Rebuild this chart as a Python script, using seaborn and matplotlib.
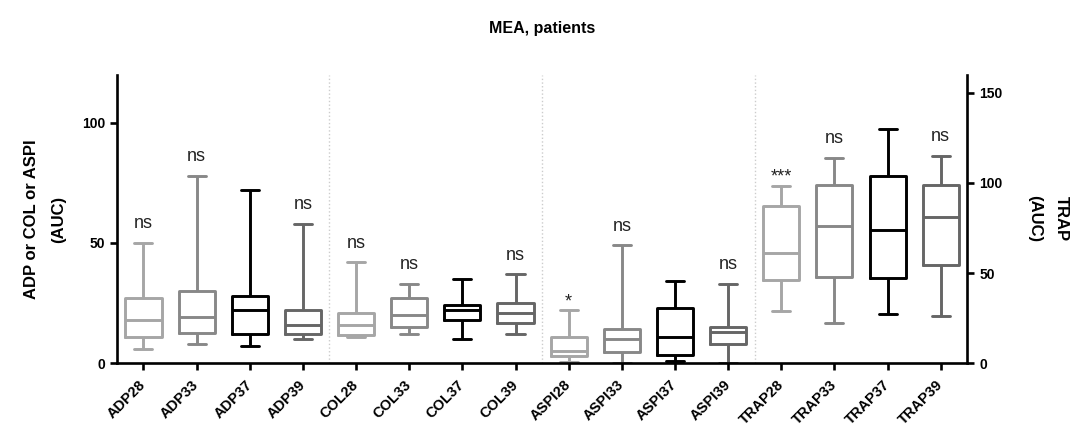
import numpy as np
import pandas as pd
import seaborn as sns
import matplotlib.pyplot as plt

# Categories in plot order
labels = ["ADP28", "ADP33", "ADP37", "ADP39",
          "COL28", "COL33", "COL37", "COL39",
          "ASPI28", "ASPI33", "ASPI37", "ASPI39",
          "TRAP28", "TRAP33", "TRAP37", "TRAP39"]
temps = ["28", "33", "37", "39"] * 4

# Five-number summaries (min, Q1, median, Q3, max)
whisk_lo = [6, 8, 7, 10, 11, 12, 10, 12, 0.5, 0, 1, 0, 29, 22, 27, 26]
q1 = [11, 12.6, 12, 12, 11.5, 15, 18, 16.5, 3, 4.5, 3.5, 8, 46, 48, 47, 54.5]
median = [18, 19, 22, 16, 16, 20, 22, 21, 5, 10, 11, 13, 61, 76, 74, 81]
q3 = [27, 30, 28, 22, 21, 27, 24, 25, 11, 14, 23, 15, 87, 99, 104, 99]
whisk_hi = [50, 78, 72, 58, 42, 33, 35, 37, 22, 49, 34, 33, 98.5, 114, 130, 115]

# Significance marks above each box
annot = ["ns", "ns", "", "ns", "ns", "ns", "", "ns",
         "*", "ns", "", "ns", "***", "ns", "", "ns"]

palette = {"28": "#A6A6A6", "33": "#888888", "37": "#000000", "39": "#666666"}

# long-form table: each box is drawn from its five summary values
rows = []
for lab, t, a, b, c, d, e in zip(labels, temps, whisk_lo, q1, median, q3, whisk_hi):
    for v in (a, b, c, d, e):
        rows.append({"group": lab, "temp": t, "auc": v,
                     "agonist": "TRAP" if lab.startswith("TRAP") else "other"})
df = pd.DataFrame(rows)

sns.set_style("ticks")
plt.rcParams["font.family"] = ["Liberation Sans", "DejaVu Sans"]
plt.rcParams["text.color"] = "black"
plt.rcParams["axes.labelcolor"] = "black"
plt.rcParams["xtick.color"] = "black"
plt.rcParams["ytick.color"] = "black"

fig = plt.figure(figsize=(10.82, 4.46), dpi=100)
ax = fig.add_axes([0.108, 0.186, 0.786, 0.646])
ax2 = ax.twinx()

box_kw = dict(x="group", y="auc", hue="temp", order=labels, palette=palette,
              hue_order=["28", "33", "37", "39"], fill=False, dodge=False,
              width=0.68, whis=(0, 100), linewidth=2.1, saturation=1,
              legend=False, showfliers=False)
sns.boxplot(data=df[df.agonist == "other"], ax=ax, **box_kw)
sns.boxplot(data=df[df.agonist == "TRAP"], ax=ax2, **box_kw)

for xs in (3.5, 7.5, 11.5):
    ax.axvline(xs, color="#cccccc", ls=":", lw=1, zorder=0)

ax.set_xlim(-0.5, 15.5)
ax.set_ylim(0, 120)
ax2.set_ylim(0, 160)
ax.set_yticks([0, 50, 100])
ax2.set_yticks([0, 50, 100, 150])

for i, txt in enumerate(annot):
    if not txt:
        continue
    target = ax2 if labels[i].startswith("TRAP") else ax
    off = 3 if "*" in txt else 10.5
    target.annotate(txt, (i, whisk_hi[i]), xytext=(0, off),
                    textcoords="offset points", ha="center", va="baseline",
                    fontsize=13, color="#222222")

for a in (ax, ax2):
    for s in a.spines.values():
        s.set_linewidth(1.9)
        s.set_color("black")
    a.spines["top"].set_visible(False)
    a.tick_params(width=1.9, length=5, labelsize=10)
ax.spines["right"].set_visible(False)
ax2.spines["left"].set_visible(False)
ax2.spines["bottom"].set_visible(False)

ax.set_xlabel("")
ax2.set_xlabel("")
ax.set_xticks(range(len(labels)))
ax.set_xticklabels(labels, rotation=45, ha="right", va="center",
                   rotation_mode="anchor", fontweight="bold", fontsize=10.5)
ax.tick_params(axis="x", pad=9)
for t in ax.get_yticklabels() + ax2.get_yticklabels():
    t.set_fontweight("bold")

ax.set_ylabel("ADP or COL or ASPI\n(AUC)", fontweight="bold", fontsize=12,
              linespacing=2.0)
ax.yaxis.set_label_coords(-0.06, 0.5)
ax2.set_ylabel("TRAP\n(AUC)", fontweight="bold", fontsize=12,
               rotation=270, va="bottom", linespacing=2.0)
ax2.yaxis.set_label_coords(1.07, 0.5)

ax.set_title("MEA, patients", fontweight="bold", fontsize=11.5, pad=30)

fig.savefig("out.png", dpi=100)
